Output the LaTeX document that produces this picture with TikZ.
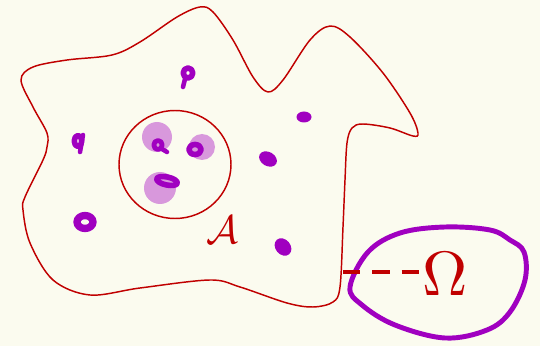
\documentclass[tikz,border=0pt]{standalone}
\begin{document}
\begin{tikzpicture}[x=0.75pt,y=-0.75pt,
  outline/.style={draw=myred,line width=1.1pt,line join=round},
  scrib/.style={draw=mypurple,line width=4.2pt,line cap=round,line join=round},
  blob/.style={fill=mypurple},
  halo/.style={fill=mylight},
  lbl/.style={text=myred,inner sep=0pt}]
\definecolor{bg}{HTML}{FBFBEF}
\definecolor{myred}{HTML}{C00000}
\definecolor{mypurple}{HTML}{A000C0}
\definecolor{mylight}{HTML}{D898DC}
\useasboundingbox[fill=bg] (0,0) rectangle (540,346);
% outer region
\draw[outline] plot[smooth cycle,tension=0.55] coordinates {
(21,80) (33,67) (67,60) (112,55) (140,42) (177,17) (200,7) (213,12)
(233,40) (253,77) (268,92) (283,80) (310,40) (330,26) (350,37) (383,73)
(410,113) (418,133) (413,136) (390,128) (363,124) (352,128) (347,143)
(345,180) (343,227) (340,287) (333,302) (313,307) (287,303) (240,287)
(210,280) (140,288) (90,295) (53,280) (30,243) (23,210) (25,197)
(43,160) (47,147) (47,133) (33,107)};
% inner disc
\draw[outline] (175,164.5) ellipse [x radius=56, y radius=54];
% halos
\fill[halo] (157,137) circle (15);
\fill[halo] (202,147) circle (13);
\fill[halo] (160,188) circle (16);
% scribbles inside disc
\draw[scrib,line width=3.4pt] (162,149) -- (167,152);
\draw[scrib,line width=3.6pt] (158,145) ellipse [x radius=4.2, y radius=4.5];
\draw[scrib] (195,149.5) ellipse [x radius=6.2, y radius=5];
\draw[scrib,rotate around={-12:(167,181)}] (167,181) ellipse [x radius=10.5, y radius=4];
% scribbles outside
\draw[scrib] (188,73) ellipse [x radius=4.8, y radius=5];
\draw[scrib,line width=3.4pt] (185,79) -- (183,87);
\draw[scrib] (78,141) ellipse [x radius=3.8, y radius=5.5];
\draw[scrib,line width=3.4pt] (83,135) -- (80,152);
\draw[scrib,line width=5.5pt] (85,222) ellipse [x radius=8, y radius=6.5];
\fill[blob,rotate around={-30:(268,159)}] (268,159) ellipse [x radius=9.5, y radius=7];
\fill[blob] (304,117) ellipse [x radius=7.5, y radius=5.5];
\fill[blob,rotate around={-50:(283,247)}] (283,247) ellipse [x radius=9.5, y radius=7.5];
% labels
\node[lbl] (A) at (222,230) {\scalebox{3}{$\mathcal{A}$}};
\node[lbl,anchor=west] (omega) at (422,274) {\scalebox{4.7}{$\Omega$}};
\coordinate (dashstart) at (343,272);
% purple boundary
\draw[draw=mypurple,line width=3.7pt] plot[smooth cycle,tension=0.6] coordinates {
(350,287) (368,252) (400,233) (445,227) (490,230) (510,240) (524,252)
(525,280) (510,312) (487,330) (445,338) (395,325) (362,305)};
% dashed connector
\draw[myred,line width=2.6pt,dash pattern=on 13pt off 9pt] (dashstart) -- (omega.west |- dashstart);
\end{tikzpicture}
\end{document}
